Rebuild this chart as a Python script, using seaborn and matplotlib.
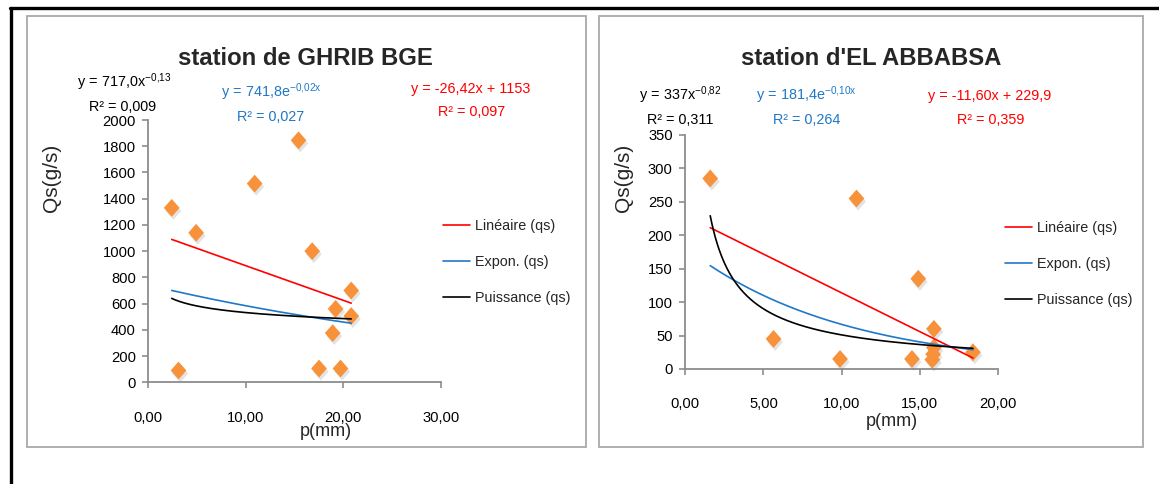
import numpy as np
import pandas as pd
import matplotlib
matplotlib.use("Agg")
import matplotlib.pyplot as plt
import seaborn as sns
from matplotlib import font_manager
from matplotlib.path import Path
from matplotlib.patches import Rectangle
from matplotlib.lines import Line2D
import matplotlib.patheffects as pe

# ---------------------------------------------------------------- data
# Station de GHRIB BGE : rainfall p (mm) vs. sediment discharge Qs (g/s)
ghrib_p = [2.4, 3.1, 4.9, 10.9, 15.4, 16.8, 17.5, 18.9, 19.2, 19.7, 20.8, 20.8]
ghrib_qs = [1330, 90, 1140, 1515, 1845, 1000, 105, 375, 560, 105, 700, 505]
ghrib_lin = [-26.42, 1153.0]      # y = a x + b
ghrib_exp = [741.8, -0.024]       # y = a e^(b x)
ghrib_pow = [717.0, -0.13]        # y = a x^b
ghrib_r2 = [0.097, 0.027, 0.009]  # linear, exponential, power
ghrib_xticks = [0, 10, 20, 30]
ghrib_yticks = list(range(0, 2001, 200))

# Station d'EL ABBABSA
abb_p = [1.6, 5.65, 9.9, 10.95, 14.5, 14.9, 15.9, 15.9, 15.85, 15.8, 18.4]
abb_qs = [285, 45, 15, 255, 15, 135, 60, 32, 22, 14, 25]
abb_lin = [-11.60, 229.9]
abb_exp = [181.4, -0.10]
abb_pow = [337.0, -0.82]
abb_r2 = [0.359, 0.264, 0.311]
abb_xticks = [0, 5, 10, 15, 20]
abb_yticks = list(range(0, 351, 50))

titles = ["station de GHRIB BGE", "station d'EL ABBABSA"]
trend_labels = ["Linéaire (qs)", "Expon. (qs)", "Puissance (qs)"]
x_label = "p(mm)"
y_label = "Qs(g/s)"

# ---------------------------------------------------------------- style
sns.set_theme(style="white")
available = {f.name for f in font_manager.fontManager.ttflist}
if "Liberation Sans Narrow" in available:
    FONT, K = "Liberation Sans Narrow", 1.0
else:
    FONT, K = "Liberation Sans", 0.84
plt.rcParams["font.family"] = [FONT, "DejaVu Sans"]
plt.rcParams["mathtext.fontset"] = "custom"
plt.rcParams["mathtext.rm"] = FONT
plt.rcParams["mathtext.it"] = FONT
plt.rcParams["mathtext.bf"] = FONT + ":bold"

RED, BLUE, BLACK = "#FF0000", "#1F78C8", "#000000"
ORANGE = "#F7913A"
AXIS_GREY = "#8C8C8C"

W, H = 1159, 484
fig = plt.figure(figsize=(W / 100, H / 100), dpi=100)
fig.patch.set_facecolor("white")


def fx(x):
    return x / W


def fy(y):
    return 1 - y / H


def dec(v, nd):
    return f"{v:.{nd}f}".replace(".", ",")


# outer frame (top and left rules) and the two chart panels
fig.add_artist(Line2D([fx(10), 1], [fy(8), fy(8)], color="black", lw=2.4))
fig.add_artist(Line2D([fx(11), fx(11)], [fy(8), 0], color="black", lw=2.4))
for (x0, x1) in [(26.5, 586), (599, 1142.5)]:
    fig.add_artist(Rectangle((fx(x0), fy(447)), fx(x1) - fx(x0), fy(16) - fy(447),
                             fill=False, edgecolor="#A9A9A9", lw=1.3))

diamond = Path([(0, 1), (0.88, 0), (0, -1), (-0.88, 0), (0, 1)],
               [Path.MOVETO, Path.LINETO, Path.LINETO, Path.LINETO, Path.CLOSEPOLY])

panels = [
    dict(p=ghrib_p, qs=ghrib_qs, lin=ghrib_lin, exp=ghrib_exp, pw=ghrib_pow, r2=ghrib_r2,
         xt=ghrib_xticks, yt=ghrib_yticks, box=(148.3, 441, 120, 382.3),
         title=titles[0], title_xy=(305, 65),
         eq_dec=[(2, 0), (1, 2), (1, 2)],
         eq_pos=[(471, 93, 472, 116), (271, 97, 271, 121), (124, 87, 123, 111)],
         ylab_xy=(51, 178), xlab_xy=(326, 432), leg_xy=(443, 219), xpad=18),
    dict(p=abb_p, qs=abb_qs, lin=abb_lin, exp=abb_exp, pw=abb_pow, r2=abb_r2,
         xt=abb_xticks, yt=abb_yticks, box=(685.2, 998, 135, 369),
         title=titles[1], title_xy=(871, 65),
         eq_dec=[(2, 1), (1, 2), (0, 2)],
         eq_pos=[(990, 100, 991, 124), (806, 100, 807, 124), (680, 100, 680, 124)],
         ylab_xy=(623, 178), xlab_xy=(892, 421), leg_xy=(1005, 221), xpad=17),
]

for pan in panels:
    x0, x1, ytop, ybot = pan["box"]
    ax = fig.add_axes([fx(x0), fy(ybot), fx(x1) - fx(x0), fy(ytop) - fy(ybot)])
    ax.set_facecolor("none")

    df = pd.DataFrame({"p": pan["p"], "qs": pan["qs"]})
    pts = sns.scatterplot(data=df, x="p", y="qs", marker=diamond, s=165, color=ORANGE,
                          edgecolor="none", linewidth=0, legend=False, ax=ax,
                          clip_on=False, zorder=3)
    pts.collections[-1].set_path_effects([
        pe.SimplePatchShadow(offset=(1.2, -2.2), shadow_rgbFace=(0.5, 0.5, 0.5), alpha=0.22),
        pe.Normal()])

    xs = np.linspace(min(pan["p"]), max(pan["p"]), 300)
    a, b = pan["lin"]
    y_lin = a * xs + b
    a, b = pan["exp"]
    y_exp = a * np.exp(b * xs)
    a, b = pan["pw"]
    y_pow = a * xs ** b
    for yy, col, lab in [(y_lin, RED, trend_labels[0]), (y_exp, BLUE, trend_labels[1]),
                         (y_pow, BLACK, trend_labels[2])]:
        sns.lineplot(x=xs, y=yy, color=col, lw=1.2, estimator=None, sort=False,
                     label=lab, ax=ax, zorder=4)

    ax.set_xlim(pan["xt"][0], pan["xt"][-1])
    ax.set_ylim(pan["yt"][0], pan["yt"][-1])
    ax.set_xticks(pan["xt"])
    ax.set_xticklabels([dec(v, 2) for v in pan["xt"]])
    ax.set_yticks(pan["yt"])
    ax.set_yticklabels([str(v) for v in pan["yt"]])
    ax.set_xlabel("")
    ax.set_ylabel("")
    for side in ["top", "right"]:
        ax.spines[side].set_visible(False)
    for side in ["left", "bottom"]:
        ax.spines[side].set_color(AXIS_GREY)
        ax.spines[side].set_linewidth(1.3)
    ax.tick_params(axis="both", direction="out", length=4, width=1.2, color=AXIS_GREY,
                   labelsize=12.6 * K, labelcolor="black", bottom=True, left=True)
    ax.tick_params(axis="x", pad=pan["xpad"] - 1)
    ax.tick_params(axis="y", pad=5)
    ax.grid(False)

    handles, labels = ax.get_legend_handles_labels()
    lx, ly = pan["leg_xy"]
    ax.legend(handles, labels, loc="upper left", bbox_to_anchor=(fx(lx), fy(ly)),
              bbox_transform=fig.transFigure, frameon=False, fontsize=12.3 * K,
              handlelength=1.85, handletextpad=0.35, labelspacing=1.55,
              borderpad=0, borderaxespad=0)

    # title, axis titles
    tx, ty = pan["title_xy"]
    fig.text(fx(tx), fy(ty), pan["title"], ha="center", va="baseline",
             fontsize=20.5 * K, fontweight="bold")
    yx, yy_ = pan["ylab_xy"]
    fig.text(fx(yx), fy(yy_), y_label, ha="center", va="center", rotation=90,
             fontsize=15, family=["Liberation Sans", "DejaVu Sans"])
    xx, xy_ = pan["xlab_xy"]
    fig.text(fx(xx), fy(xy_), x_label, ha="center", va="center",
             fontsize=13, family=["Liberation Sans", "DejaVu Sans"])

    # trendline equations and R²
    (dl_a, dl_b), (de_a, de_b), (dp_a, dp_b) = pan["eq_dec"]
    a, b = pan["lin"]
    sign = "+" if b >= 0 else "-"
    eq_lin = f"y = {dec(a, dl_a)}x {sign} {dec(abs(b), dl_b)}"
    a, b = pan["exp"]
    eq_exp = (r"$\mathregular{y\,=\," + dec(a, de_a).replace(",", "{,}") + "e^{"
              + dec(b, de_b).replace(",", "{,}") + "x}}$")
    a, b = pan["pw"]
    eq_pow = (r"$\mathregular{y\,=\," + dec(a, dp_a).replace(",", "{,}") + "x^{"
              + dec(b, dp_b).replace(",", "{,}") + "}}$")
    for eq, r2, col, (ex, ey, rx, ry) in zip([eq_lin, eq_exp, eq_pow], pan["r2"],
                                             [RED, BLUE, BLACK], pan["eq_pos"]):
        fig.text(fx(ex), fy(ey), eq, ha="center", va="baseline", color=col,
                 fontsize=12.3 * K)
        fig.text(fx(rx), fy(ry), f"R² = {dec(r2, 3)}", ha="center", va="baseline",
                 color=col, fontsize=12.3 * K)

fig.savefig("out.png", dpi=100, facecolor="white")
